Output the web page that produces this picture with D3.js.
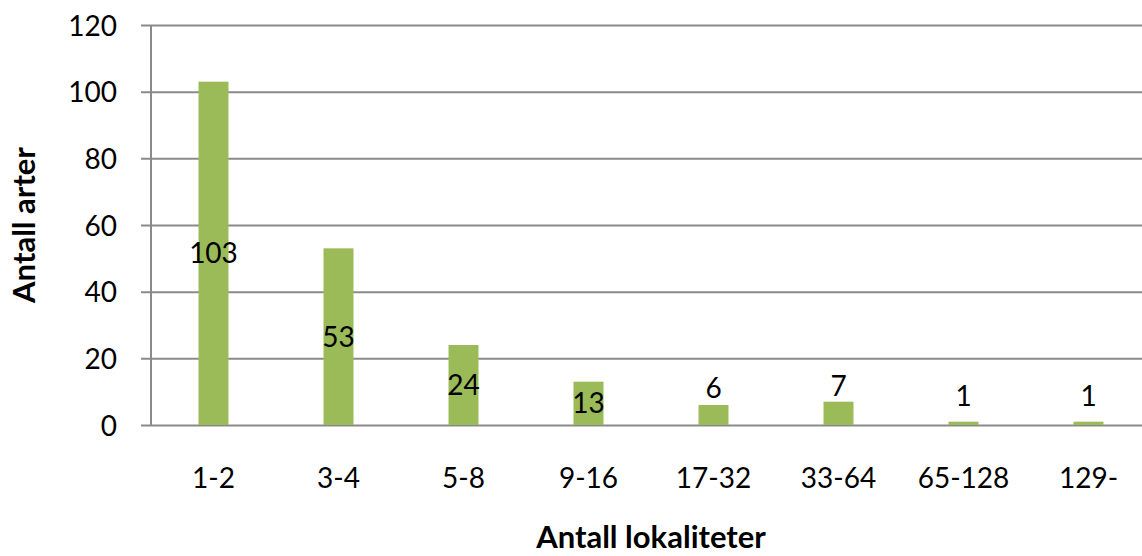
<!DOCTYPE html>
<html>
<head>
<meta charset="utf-8">
<script src="https://d3js.org/d3.v7.min.js"></script>
<style>
  html, body { margin: 0; padding: 0; background: #fff; overflow: hidden; }
  svg text { font-family: Lato, "Open Sans", sans-serif; fill: #000; }
</style>
</head>
<body>
<div id="chart"></div>
<script>
// Antall arter per antall lokaliteter
const categories = ["1-2", "3-4", "5-8", "9-16", "17-32", "33-64", "65-128", "129-"];
const values = [103, 53, 24, 13, 6, 7, 1, 1];
const yTicks = [0, 20, 40, 60, 80, 100, 120];

const width = 1142, height = 556;
const margin = {top: 25, right: -9, bottom: 131, left: 151};
const fs = '28px', titleFs = '31px';

const svg = d3.select('#chart')
    .append('svg')
    .attr('width', width)
    .attr('height', height);

const x = d3.scaleBand()
    .domain(categories)
    .range([margin.left, width - margin.right])
    .paddingInner(0.76)
    .paddingOuter(0.38);

const y = d3.scaleLinear()
    .domain([0, 120])
    .range([height - margin.bottom, margin.top]);

// gridlines + y ticks
const yAxis = svg.append('g')
    .attr('transform', `translate(${margin.left},0)`)
    .call(d3.axisLeft(y).tickValues(yTicks).tickSize(10).tickPadding(24)
        .tickSizeOuter(0));
yAxis.select('.domain').remove();
yAxis.selectAll('.tick line')
    .attr('x2', width)
    .attr('x1', -10)
    .attr('stroke', '#8a8a8a')
    .attr('stroke-width', 2);
yAxis.selectAll('.tick text')
    .style('font-size', fs)
    .attr('dy', '0.36em');

// vertical axis line
svg.append('line')
    .attr('x1', margin.left).attr('x2', margin.left)
    .attr('y1', y(120)).attr('y2', y(0))
    .attr('stroke', '#8a8a8a')
    .attr('stroke-width', 2);

// bars
svg.selectAll('rect.bar')
    .data(values)
    .join('rect')
    .attr('class', 'bar')
    .attr('x', (d, i) => x(categories[i]))
    .attr('y', d => y(d))
    .attr('width', x.bandwidth())
    .attr('height', d => y(0) - y(d))
    .attr('fill', '#9bbb59');

// data labels (centred, pushed above short bars)
svg.selectAll('text.val')
    .data(values)
    .join('text')
    .attr('class', 'val')
    .attr('x', (d, i) => x(categories[i]) + x.bandwidth() / 2)
    .attr('y', d => {
        const mid = (y(d) + y(0)) / 2;
        return (y(0) - y(d)) < 30 ? mid - 27 : mid;
    })
    .attr('dy', '0.36em')
    .attr('text-anchor', 'middle')
    .style('font-size', fs)
    .text(d => d);

// x tick labels
svg.selectAll('text.xlab')
    .data(categories)
    .join('text')
    .attr('class', 'xlab')
    .attr('x', d => x(d) + x.bandwidth() / 2)
    .attr('y', 488)
    .attr('text-anchor', 'middle')
    .style('font-size', fs)
    .text(d => d);

// axis titles
svg.append('text')
    .attr('x', 651)
    .attr('y', 548)
    .attr('text-anchor', 'middle')
    .style('font-size', titleFs)
    .style('font-weight', 'bold')
    .text('Antall lokaliteter');

svg.append('text')
    .attr('transform', `translate(35,${y(60)}) rotate(-90)`)
    .attr('text-anchor', 'middle')
    .style('font-size', titleFs)
    .style('font-weight', 'bold')
    .text('Antall arter');
</script>
</body>
</html>
